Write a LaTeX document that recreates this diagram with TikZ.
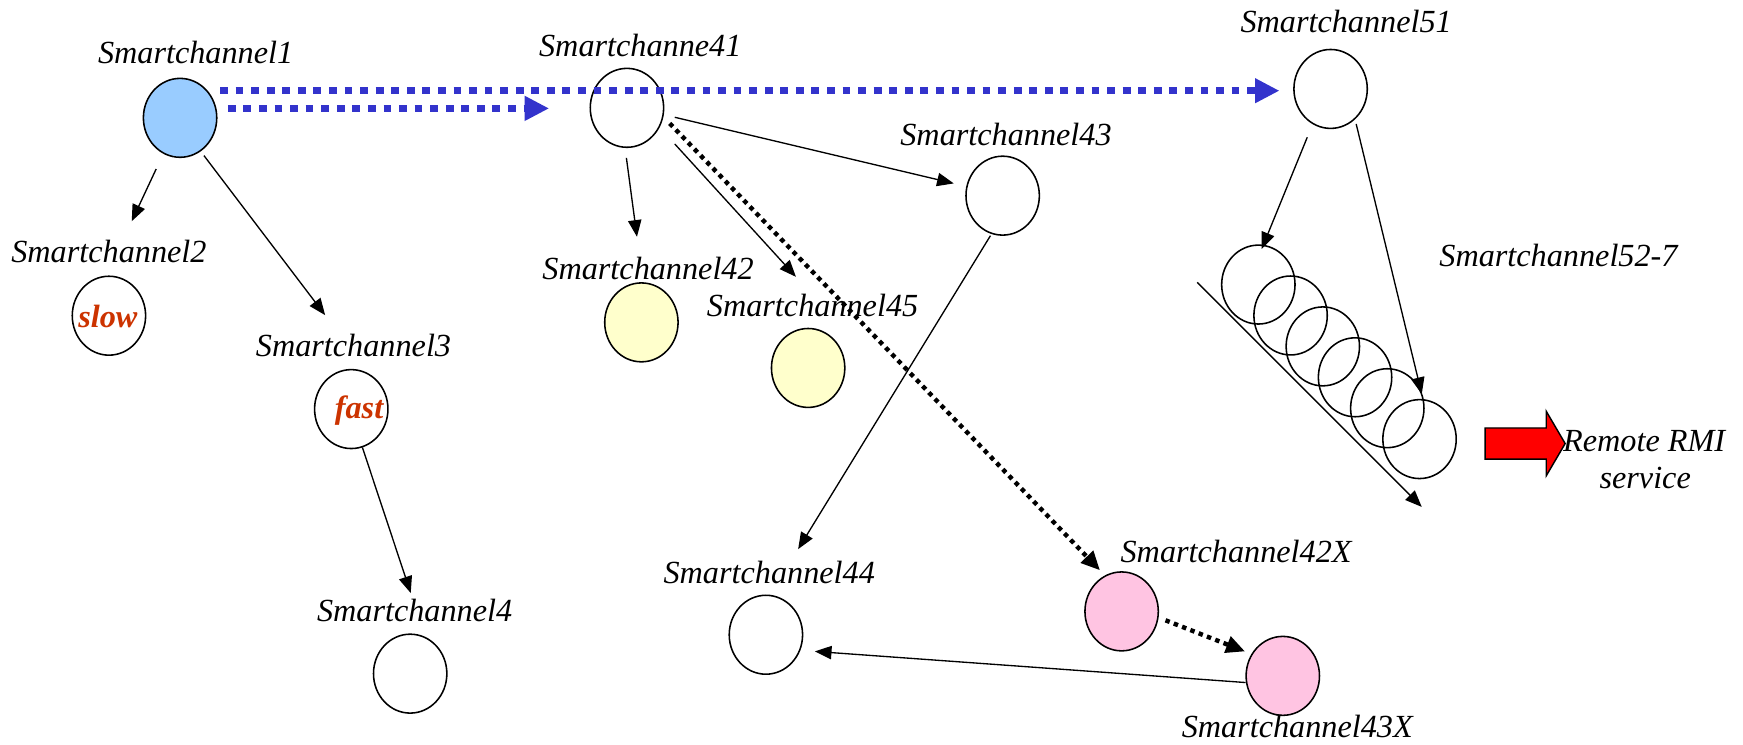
\documentclass[tikz,border=0pt]{standalone}
\usepackage{fontspec}
\setmainfont{Liberation Serif}
\usetikzlibrary{arrows.meta,shapes.geometric}
\definecolor{rootfill}{HTML}{99CCFF}
\definecolor{localfill}{HTML}{FFFFCC}
\definecolor{remotefill}{HTML}{FFC4E2}
\definecolor{callblue}{HTML}{3333CC}
\definecolor{speedred}{HTML}{CC3300}
\begin{document}
\begin{tikzpicture}[x=1pt,y=-1pt,
  chan/.style={ellipse, draw, line width=1.4pt, minimum width=66pt, minimum height=71pt, inner sep=0pt},
  lab/.style={font=\fontsize{29}{34}\selectfont\itshape, anchor=base, inner sep=0pt},
  speed/.style={font=\fontsize{29}{34}\selectfont\bfseries\itshape, text=speedred, inner sep=0pt},
  arr/.style={line width=1.2pt, -{Triangle[length=15pt,width=12pt]}},
  bluecall/.style={draw=callblue, line width=6.5pt, dash pattern=on 7pt off 7pt, -{Triangle[length=22pt,width=21pt]}},
  dotcall/.style={line width=4pt, dash pattern=on 4pt off 4pt, -{Triangle[length=17pt,width=15pt]}}]
\useasboundingbox (0,0) rectangle (1568,670);

% channels
\node[chan, fill=rootfill] (sc1) at (162,106) {};
\node[chan] (sc2) at (98,284) {};
\node[chan] (sc3) at (316,368) {};
\node[chan] (sc4) at (369,606) {};
\node[chan] (sc41) at (564,97) {};
\node[chan, fill=localfill] (sc42) at (577,290) {};
\node[chan, fill=localfill] (sc45) at (727,331) {};
\node[chan] (sc43) at (902,176) {};
\node[chan] (sc44) at (689,571) {};
\node[chan, fill=remotefill] (sc42x) at (1009,550) {};
\node[chan, fill=remotefill] (sc43x) at (1154,608) {};
\node[chan] (sc51) at (1197,80) {};
\foreach \k in {0,...,5}
  \node[chan] (st\k) at ({1132+29*\k},{256+27.8*\k}) {};

\node[speed] (slow) at (97,285) {slow};
\node[speed] (fast) at (323,369) {fast};

% block arrow towards the remote service
\draw[fill=red, line width=1.3pt, line join=miter]
  (1336,385) -- (1391,385) -- (1391,370) -- (1408,399) -- (1391,428)
  -- (1391,413) -- (1336,413) -- cycle;

% labels
\node[lab] (l1) at (176,57) {Smartchannel1};
\node[lab] (l41) at (576,51) {Smartchanne41};
\node[lab] (l51) at (1211,29) {Smartchannel51};
\node[lab] (l43) at (905,131) {Smartchannel43};
\node[lab] (l2) at (98,236) {Smartchannel2};
\node[lab] (l3) at (318,321) {Smartchannel3};
\node[lab] (l42) at (583,251) {Smartchannel42};
\node[lab] (l45) at (731,285) {Smartchannel45};
\node[lab] (l527) at (1402,240) {Smartchannel52-7};
\node[lab] (l44) at (692,525) {Smartchannel44};
\node[lab] (l4) at (373,559) {Smartchannel4};
\node[lab] (l42x) at (1112,506) {Smartchannel42X};
\node[lab] (l43x) at (1167,663) {Smartchannel43X};
\node[lab, anchor=base west] (rmi) at (1406,406) {Remote RMI};
\node[lab] (svc) at (1480,439) {service};

% connector end points
\coordinate (a1s) at (140.5,152);   \coordinate (a1e) at (118.5,199);
\coordinate (a2s) at (183.5,140);   \coordinate (a2e) at (292.5,283.5);
\coordinate (a3s) at (563.5,142);   \coordinate (a3e) at (573,213);
\coordinate (a4s) at (607,129.5);   \coordinate (a4e) at (716,249);
\coordinate (a5s) at (607,105.5);   \coordinate (a5e) at (858,165);
\coordinate (a6s) at (602.5,111);   \coordinate (a6e) at (989.5,513);
\coordinate (a7s) at (891,212);     \coordinate (a7e) at (718,494);
\coordinate (a8s) at (326,402.5);   \coordinate (a8e) at (369.5,533.5);
\coordinate (a9s) at (1120.5,614);  \coordinate (a9e) at (733,586);
\coordinate (a10s) at (1048.5,558); \coordinate (a10e) at (1120,586);
\coordinate (a11s) at (1176,123.5); \coordinate (a11e) at (1135,224);
\coordinate (a12s) at (1220,111.5); \coordinate (a12e) at (1279,354.5);
\coordinate (a13s) at (1077,254);   \coordinate (a13e) at (1279,456);
\coordinate (b1s) at (198,81.6);    \coordinate (b1e) at (1151,81.6);
\coordinate (b2s) at (205,97.5);    \coordinate (b2e) at (494,97.5);

% calls between channels
\draw[bluecall] (b1s) -- (b1e);
\draw[bluecall] (b2s) -- (b2e);
\draw[arr] (a1s) -- (a1e);
\draw[arr] (a2s) -- (a2e);
\draw[arr] (a3s) -- (a3e);
\draw[arr] (a4s) -- (a4e);
\draw[arr] (a5s) -- (a5e);
\draw[dotcall] (a6s) -- (a6e);
\draw[arr] (a7s) -- (a7e);
\draw[arr] (a8s) -- (a8e);
\draw[arr] (a9s) -- (a9e);
\draw[dotcall] (a10s) -- (a10e);
\draw[arr] (a11s) -- (a11e);
\draw[arr] (a12s) -- (a12e);
\draw[arr] (a13s) -- (a13e);
\end{tikzpicture}
\end{document}
